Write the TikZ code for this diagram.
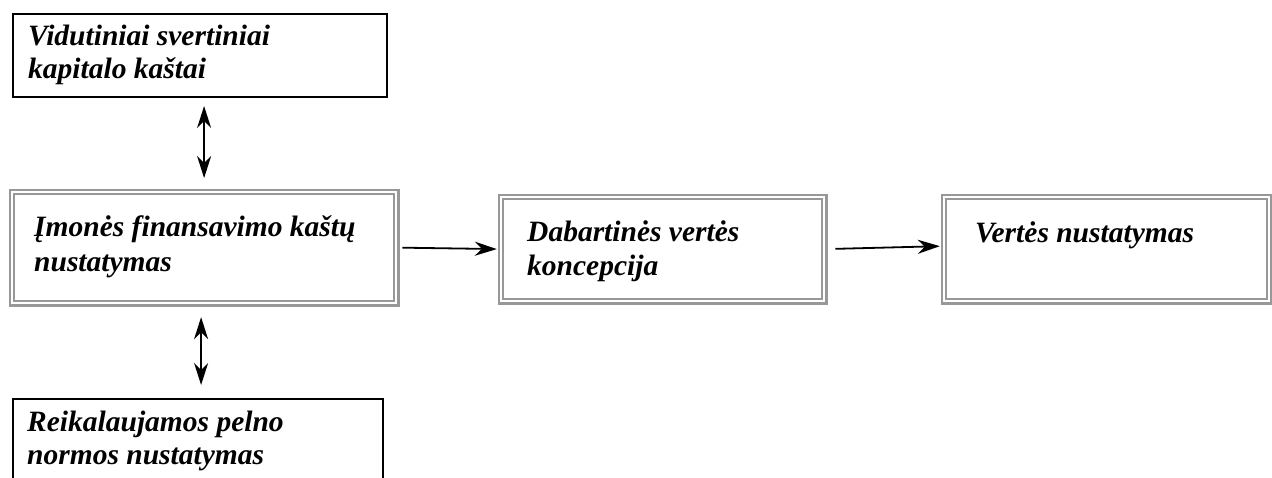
\documentclass[tikz,border=0pt]{standalone}
\usepackage{fontspec}
\setmainfont{Liberation Serif}
\usetikzlibrary{arrows.meta}
\definecolor{frame}{HTML}{989898}
\begin{document}
\begin{tikzpicture}[x=1pt,y=-1pt,
  plainbox/.style={draw=black,line width=2pt,rectangle,inner sep=0pt,anchor=north west},
  dblbox/.style={draw=frame,line width=2.2pt,double=white,double distance=2.2pt,rectangle,inner sep=0pt,anchor=north west},
  lbl/.style={anchor=base west,inner sep=0pt,font=\fontsize{29.5}{31}\selectfont\bfseries\itshape},
  conn/.style={line width=1.8pt,-{Stealth[length=22pt,width=14pt,inset=7pt]}},
  biconn/.style={line width=1.8pt,{Stealth[length=22pt,width=14pt,inset=7pt]}-{Stealth[length=22pt,width=14pt,inset=7pt]}}]
\useasboundingbox (0,0) rectangle (1272,477);
\clip (0,0) rectangle (1272,477);
\node[plainbox,minimum width=374pt,minimum height=83pt] (b1) at (12,13) {};
\node[dblbox,minimum width=384.3pt,minimum height=111.3pt] (b2) at (10.85,190.85) {};
\node[dblbox,minimum width=323.3pt,minimum height=104.3pt] (b3) at (499.85,195.85) {};
\node[dblbox,minimum width=325.3pt,minimum height=104.3pt] (b4) at (942.85,195.85) {};
\node[plainbox,minimum width=370pt,minimum height=110pt] (b5) at (12,398) {};
\node[lbl] (t1a) at (28,45) {Vidutiniai svertiniai};
\node[lbl] (t1b) at (28,78) {kapitalo kaštai};
\node[lbl] (t2a) at (34,236) {Įmonės finansavimo kaštų};
\node[lbl] (t2b) at (34,271) {nustatymas};
\node[lbl] (t3a) at (527,241) {Dabartinės vertės};
\node[lbl] (t3b) at (527,275) {koncepcija};
\node[lbl] (t4a) at (975,242) {Vertės nustatymas};
\node[lbl] (t5a) at (27,431) {Reikalaujamos pelno};
\node[lbl] (t5b) at (27,464) {normos nustatymas};
\draw[biconn,shorten <=8pt,shorten >=12.8pt] (b1.south -| b2.north) -- (b2.north);
\draw[biconn,shorten <=12.8pt,shorten >=13pt] ([xshift=-3pt]b2.south) -- ([xshift=-3pt]b2.south |- b5.north);
\draw[conn,shorten <=5pt,shorten >=3pt] (b2.east) -- (b3.west);
\draw[conn,shorten <=10pt,shorten >=3pt] (b3.east) -- ([yshift=3pt]b4.west);
\end{tikzpicture}
\end{document}
